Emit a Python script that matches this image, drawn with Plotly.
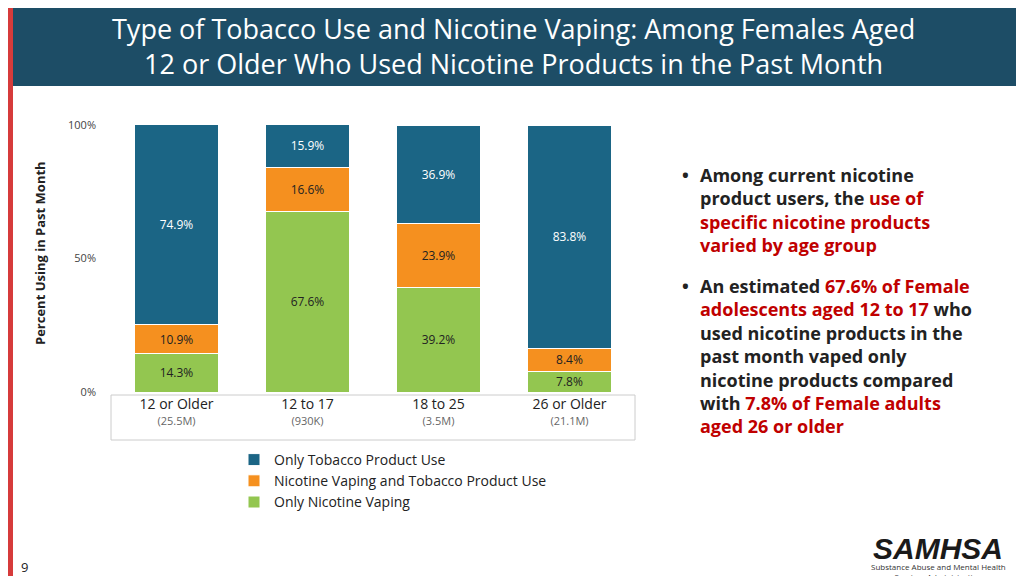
import plotly.graph_objects as go

categories = ["12 or Older", "12 to 17", "18 to 25", "26 or Older"]
sizes = ["(25.5M)", "(930K)", "(3.5M)", "(21.1M)"]
only_tobacco = [74.9, 15.9, 36.9, 83.8]
vaping_and_tobacco = [10.9, 16.6, 23.9, 8.4]
only_vaping = [14.3, 67.6, 39.2, 7.8]
y_ticks = [0, 50, 100]
y_ticktext = ["0%", "50%", "100%"]

TEAL = "#1b6585"; ORANGE = "#f5901f"; GREEN = "#93c650"
L, R, T, B = 103, 627, 117, 384
def px(x): return (x - L) / (R - L)
def py(y): return (B - y) / (B - T)

ticktext = [f"<span style='font-size:14px;color:#222'>{c}</span><br><span style='font-size:11px;color:#666'>{s}</span>"
            for c, s in zip(categories, sizes)]

fig = go.Figure()
def fmt(v): return [f"{x}%" for x in v]
fig.add_bar(x=categories, y=only_vaping, name="Only Nicotine Vaping", marker=dict(color=GREEN, line=dict(color="white", width=1)),
            text=fmt(only_vaping), textfont=dict(color="#222", size=12))
fig.add_bar(x=categories, y=vaping_and_tobacco, name="Nicotine Vaping and Tobacco Product Use", marker=dict(color=ORANGE, line=dict(color="white", width=1)),
            text=fmt(vaping_and_tobacco), textfont=dict(color="#222", size=12))
fig.add_bar(x=categories, y=only_tobacco, name="Only Tobacco Product Use", marker=dict(color=TEAL, line=dict(color="white", width=1)),
            text=fmt(only_tobacco), textfont=dict(color="white", size=12))
fig.update_traces(textposition="inside", insidetextanchor="middle", textangle=0, constraintext="none")

fig.update_layout(
    width=1024, height=576, barmode="stack", bargap=0.36,
    margin=dict(l=L, r=1024 - R, t=T, b=576 - B),
    plot_bgcolor="white", paper_bgcolor="white",
    font=dict(family="Open Sans, Noto Sans, sans-serif", color="#222"),
    xaxis=dict(tickvals=categories, ticktext=ticktext, showline=False, ticks="", ticklabelstandoff=4),
    yaxis=dict(range=[0, 100], tickvals=y_ticks, ticktext=y_ticktext, showgrid=False, zeroline=False,
               tickfont=dict(size=11, color="#444"), ticklabelstandoff=14),
    legend=dict(x=px(226), y=py(436), xanchor="left", yanchor="top", traceorder="reversed",
                font=dict(size=14, color="#222"), tracegroupgap=0, itemwidth=30),
    showlegend=True,
)

shapes = [
    dict(type="rect", xref="paper", yref="paper", x0=px(0), x1=px(1024), y0=py(78), y1=py(0),
         fillcolor="#1d4d66", line_width=0, layer="below"),
    dict(type="rect", xref="paper", yref="paper", x0=px(0), x1=px(5), y0=py(576), y1=py(0),
         fillcolor="#d63b3b", line_width=0),
    dict(type="rect", xref="paper", yref="paper", x0=px(103), x1=px(627), y0=py(432), y1=py(387),
         fillcolor="rgba(0,0,0,0)", line=dict(color="#cccccc", width=1)),
    dict(type="line", xref="paper", yref="paper", x0=px(5), x1=px(1024), y0=py(571), y1=py(571),
         line=dict(color="#999", width=1)),
]
fig.update_layout(shapes=shapes)

RED = "#c00000"
bullet1 = ("Among current nicotine<br>product users, the "
           f"<span style='color:{RED}'>use of</span><br><span style='color:{RED}'>specific nicotine products</span><br>"
           f"<span style='color:{RED}'>varied by age group</span>")
bullet2 = (f"An estimated <span style='color:{RED}'>67.6% of Female</span><br>"
           f"<span style='color:{RED}'>adolescents aged 12 to 17</span> who<br>used nicotine products in the<br>"
           "past month vaped only<br>nicotine products compared<br>"
           f"with <span style='color:{RED}'>7.8% of Female adults</span><br><span style='color:{RED}'>aged 26 or older</span>")
ann = [
    dict(text="Type of Tobacco Use and Nicotine Vaping: Among Females Aged<br>12 or Older Who Used Nicotine Products in the Past Month",
         x=px(505), y=py(38), xanchor="center", yanchor="middle", font=dict(size=27, color="white", family="Open Sans"), showarrow=False),
    dict(text="<b>Percent Using in Past Month</b>", x=px(32), y=py(245), textangle=-90, xanchor="center", yanchor="middle",
         font=dict(size=13, color="#222"), showarrow=False),
    dict(text="<b>•</b>", x=px(672), y=py(153), xanchor="left", yanchor="top", font=dict(size=18), showarrow=False),
    dict(text=f"<b>{bullet1}</b>", x=px(690), y=py(153), xanchor="left", yanchor="top", align="left",
         font=dict(size=18, color="#222"), showarrow=False),
    dict(text="<b>•</b>", x=px(672), y=py(264), xanchor="left", yanchor="top", font=dict(size=18), showarrow=False),
    dict(text=f"<b>{bullet2}</b>", x=px(690), y=py(264), xanchor="left", yanchor="top", align="left",
         font=dict(size=18, color="#222"), showarrow=False),
    dict(text="9", x=px(16), y=py(559), xanchor="center", yanchor="middle", font=dict(size=13, color="#222"), showarrow=False),
    dict(text="<b><i>SAMHSA</i></b>", x=px(930), y=py(540), xanchor="center", yanchor="middle",
         font=dict(size=30, color="#1a1a1a", family="Liberation Sans"), showarrow=False),
    dict(text="Substance Abuse and Mental Health<br>Services Administration", x=px(930), y=py(563), xanchor="center", yanchor="middle",
         font=dict(size=8, color="#333"), showarrow=False),
]
for a in ann:
    a["xref"] = "paper"; a["yref"] = "paper"
fig.update_layout(annotations=ann)
fig.write_html("out.html")
